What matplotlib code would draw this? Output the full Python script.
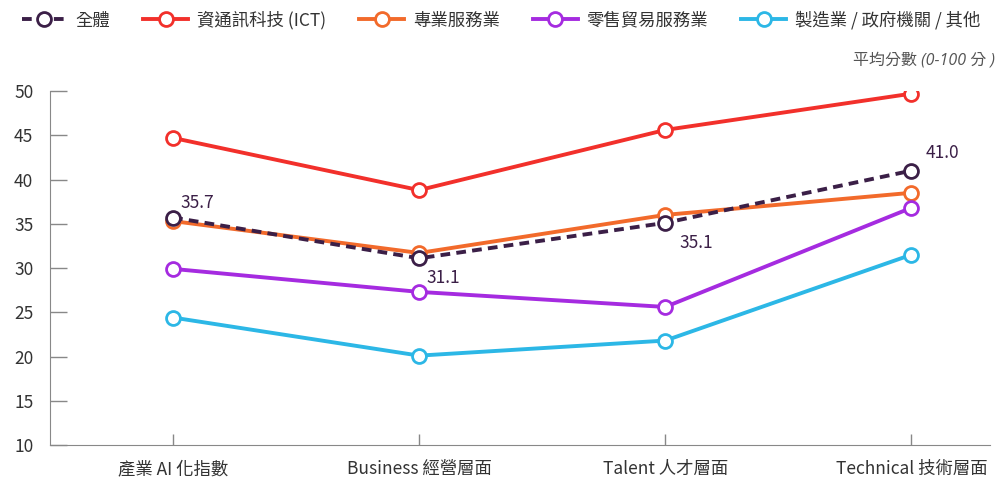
import matplotlib.pyplot as plt
import numpy as np

plt.rcParams['font.family'] = ['Noto Sans CJK TC', 'DejaVu Sans']

categories = ["產業 AI 化指數", "Business 經營層面", "Talent 人才層面", "Technical 技術層面"]
series_names = ["全體", "資通訊科技 (ICT)", "專業服務業", "零售貿易服務業", "製造業 / 政府機關 / 其他"]
overall = [35.7, 31.1, 35.1, 41.0]
ict = [44.7, 38.8, 45.6, 49.7]
professional = [35.3, 31.7, 36.0, 38.5]
retail = [29.9, 27.3, 25.6, 36.8]
manufacturing = [24.4, 20.1, 21.8, 31.5]
yticks = [10, 15, 20, 25, 30, 35, 40, 45, 50]

colors = ['#3b1f47', '#f2302b', '#f26a2b', '#a52be0', '#2cb7e6']

fig = plt.figure(figsize=(9.98, 4.8), dpi=100)
ax = fig.add_axes([0.0501, 0.0729, 0.942, 0.7375])

x = np.arange(len(categories))
others = [ict, professional, retail, manufacturing]
for i, vals in enumerate(others):
    ax.plot(x, vals, color=colors[i + 1], lw=2.8, marker='o', ms=10,
            mfc='white', mec=colors[i + 1], mew=2, label=series_names[i + 1], zorder=3)
ax.plot(x, overall, color=colors[0], lw=2.8, ls=(0, (2.5, 1.6)), marker='o', ms=10,
        mfc='white', mec=colors[0], mew=2, label=series_names[0], zorder=4)

# data labels for overall
offsets = [(5, 4), (5, -21), (10, -21), (10, 6)]
for xi, v, off in zip(x, overall, offsets):
    ax.annotate(f"{v:.1f}", (xi, v), xytext=off, textcoords='offset points',
                fontsize=12.5, color=colors[0], ha='left', va='bottom')

ax.set_xlim(-0.5, 3.32)
ax.set_ylim(10, 50)
ax.set_yticks(yticks)
ax.set_xticks(x)
ax.set_xticklabels(categories, fontsize=12.5, color='#333333')
ax.tick_params(axis='y', direction='in', length=12, width=1, color='#888888',
               labelsize=12.5, labelcolor='#333333', pad=12)
ax.tick_params(axis='x', direction='in', length=8, width=1, color='#888888', pad=11)
for s in ['top', 'right']:
    ax.spines[s].set_visible(False)
for s in ['left', 'bottom']:
    ax.spines[s].set_color('#888888')

fig.text(0.997, 0.873, "平均分數 (0-100 分 )", ha='right', va='center', fontsize=11.5,
         style='italic', color='#555555', family=['Open Sans', 'Noto Sans CJK TC'])

handles, labels = ax.get_legend_handles_labels()
order = [4, 0, 1, 2, 3]
fig.legend([handles[i] for i in order], [labels[i] for i in order], loc='upper left',
           bbox_to_anchor=(0.006, 1.01), ncol=5, frameon=False, fontsize=12.5,
           handlelength=2.6, columnspacing=1.9, handletextpad=0.5, labelcolor='#333333')

fig.savefig('out.png', dpi=100)
